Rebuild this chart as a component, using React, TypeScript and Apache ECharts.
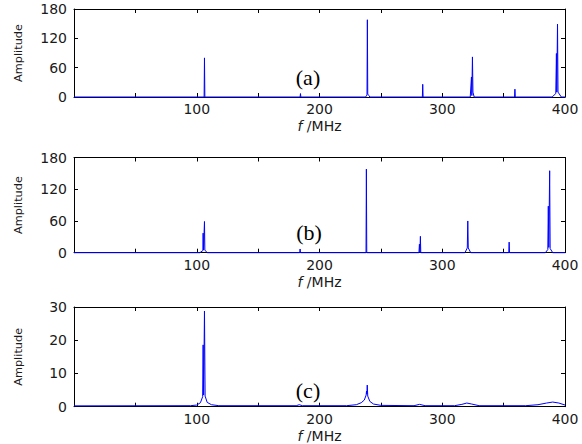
import React, { useEffect, useRef } from "react";
import * as echarts from "echarts";

// x axis (MHz)
const xMin = 0;
const xMax = 400;
const xStep = 50;
const xTickLabels = [100, 200, 300, 400];

// y axes
const yTicksAB = [0, 60, 120, 180];
const yTicksC = [0, 10, 20, 30];

const panelLabels = ["(a)", "(b)", "(c)"];
const xName = "{i|f} /MHz";
const yName = "Amplitude";

// spectrum (a): [frequency MHz, amplitude]
const spectrumA: [number, number][] = [
  [0, 0], [106, 0], [106.3, 80], [106.6, 0],
  [184.2, 0], [184.5, 7], [184.8, 0],
  [237.5, 0], [238.7, 4], [239, 158], [239.3, 6], [240.2, 3], [241, 0],
  [283.8, 0], [284.1, 26], [284.4, 0],
  [322.8, 0], [323.8, 41], [324.1, 3], [324.6, 82], [325, 10], [325.4, 9], [326, 0],
  [358.9, 0], [359.2, 16], [359.5, 0],
  [389.5, 0], [392.5, 7], [393, 89], [393.3, 10], [393.9, 149], [394.3, 10], [397, 0],
  [400, 0],
];

// spectrum (b)
const spectrumB: [number, number][] = [
  [0, 0], [102.5, 0], [105, 4], [105.2, 37], [105.5, 5], [106.3, 59], [106.6, 5], [108.5, 0],
  [183.9, 0], [184.2, 7], [184.5, 0],
  [237.9, 0], [238.2, 158], [238.5, 0],
  [281, 0], [281.4, 16], [281.8, 1], [282.2, 31], [282.5, 0],
  [318.5, 0], [320.4, 9], [320.8, 60], [321.2, 9], [323.2, 0],
  [354.2, 0], [354.5, 20], [354.8, 0],
  [384, 0], [386, 6], [386.4, 88], [386.8, 10], [387.5, 155], [387.9, 8], [390, 0],
  [400, 0],
];

// spectrum (c)
const spectrumC: [number, number][] = [
  [0, 0.25], [95, 0.3], [100, 0.5], [103, 1.2], [104.8, 3], [105.2, 18.6], [105.6, 3.5],
  [106.3, 28.8], [106.8, 3.2], [108.5, 1.3], [112, 0.6], [118, 0.3],
  [181, 0.3], [183.5, 0.6], [186, 0.3],
  [222, 0.3], [230, 0.6], [234, 1.2], [236.5, 2], [238, 3.5], [238.3, 4.7], [238.6, 3.8],
  [238.9, 6.5], [239.3, 3.2], [241, 1.6], [244, 0.8], [250, 0.4],
  [277, 0.3], [281.5, 0.7], [286, 0.3],
  [310, 0.3], [316, 0.7], [320, 1.1], [324, 0.8], [330, 0.3],
  [368, 0.3], [378, 0.6], [385, 1.1], [390, 1.4], [395, 1.1], [400, 0.5],
];

const grids = [
  { top: 9, height: 88 },
  { top: 157.5, height: 95.2 },
  { top: 307, height: 99.7 },
];
const GRID_LEFT = 74;
const GRID_WIDTH = 491;

const LABEL_FONT = "DejaVu Sans, Liberation Sans, Arial, sans-serif";
const TEXT_COLOR = "#1a1a1a";

export default function App() {
  const ref = useRef<HTMLDivElement>(null);

  useEffect(() => {
    if (!ref.current) return;
    const chart = echarts.init(ref.current, null, { renderer: "svg" });

    const yConf = [
      { ticks: yTicksAB },
      { ticks: yTicksAB },
      { ticks: yTicksC },
    ];
    const seriesData = [spectrumA, spectrumB, spectrumC];

    const xAxis: any[] = [];
    const yAxis: any[] = [];
    const series: any[] = [];

    grids.forEach((g, i) => {
      const ticks = yConf[i].ticks;
      const yMaxV = ticks[ticks.length - 1];
      const yStep = ticks[1] - ticks[0];
      const common = {
        gridIndex: i,
        type: "value",
        splitLine: { show: false },
        axisLine: { show: true, onZero: false, lineStyle: { color: "#000", width: 1 } },
        axisTick: { show: true, inside: true, length: 4, lineStyle: { color: "#000", width: 1 } },
      };
      xAxis.push({
        ...common,
        position: "bottom",
        min: xMin,
        max: xMax,
        interval: xStep,
        axisLabel: {
          show: true,
          margin: 5,
          color: TEXT_COLOR,
          fontSize: 14,
          fontFamily: LABEL_FONT,
          formatter: (v: number) => (xTickLabels.includes(v) ? String(v) : ""),
        },
        name: xName,
        nameLocation: "middle",
        nameGap: 22,
        nameTextStyle: {
          color: TEXT_COLOR,
          fontSize: 14,
          fontFamily: LABEL_FONT,
          rich: { i: { fontStyle: "italic", fontSize: 14, fontFamily: LABEL_FONT, color: TEXT_COLOR } },
        },
      });
      xAxis.push({
        ...common,
        position: "top",
        min: xMin,
        max: xMax,
        interval: xStep,
        axisLabel: { show: false },
      });
      yAxis.push({
        ...common,
        position: "left",
        min: 0,
        max: yMaxV,
        interval: yStep,
        axisLabel: {
          show: true,
          margin: 7,
          color: TEXT_COLOR,
          fontSize: 14,
          fontFamily: LABEL_FONT,
        },
        name: yName,
        nameLocation: "middle",
        nameRotate: 90,
        nameGap: 50,
        nameTextStyle: { color: TEXT_COLOR, fontSize: 11.3, fontFamily: LABEL_FONT },
      });
      yAxis.push({
        ...common,
        position: "right",
        min: 0,
        max: yMaxV,
        interval: yStep,
        axisLabel: { show: false },
      });
      series.push({
        type: "line",
        xAxisIndex: i * 2,
        yAxisIndex: i * 2,
        data: seriesData[i],
        showSymbol: false,
        symbol: "none",
        clip: false,
        lineStyle: { color: "#0000ff", width: 1 },
        z: 3,
      });
    });

    const labelCenters = [
      { x: 308, y: 77 },
      { x: 309, y: 232.5 },
      { x: 308, y: 390 },
    ];

    chart.setOption({
      animation: false,
      backgroundColor: "#ffffff",
      grid: grids.map((g) => ({ left: GRID_LEFT, width: GRID_WIDTH, top: g.top, height: g.height, containLabel: false })),
      xAxis,
      yAxis,
      series,
      graphic: panelLabels.map((t, i) => ({
        type: "text",
        x: labelCenters[i].x,
        y: labelCenters[i].y,
        z: 10,
        style: {
          text: t,
          fontSize: 22,
          fontFamily: "Liberation Serif, Times New Roman, serif",
          fill: "#000",
          textAlign: "center",
          textVerticalAlign: "middle",
        },
      })),
    });

    return () => chart.dispose();
  }, []);

  return (
    <div
      ref={ref}
      style={{ position: "fixed", left: 0, top: 0, width: 582, height: 444, background: "#fff" }}
    />
  );
}
